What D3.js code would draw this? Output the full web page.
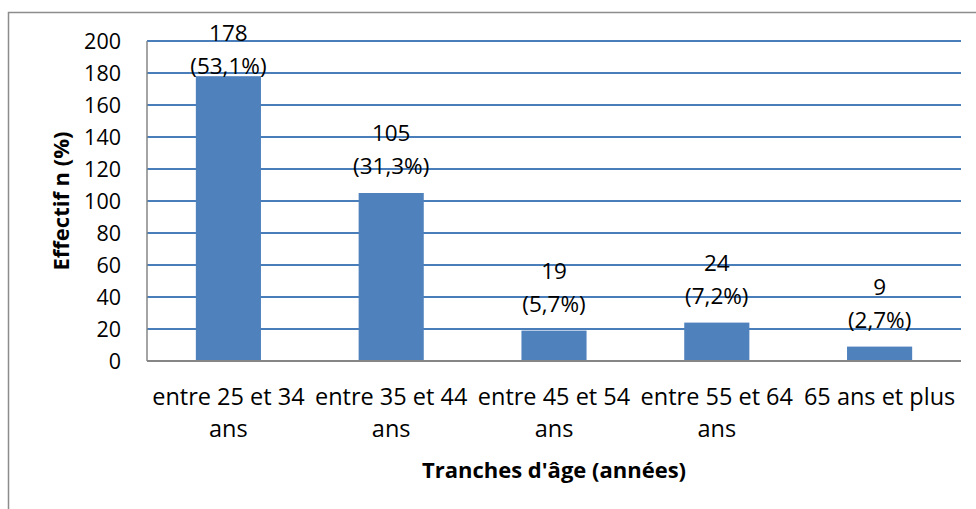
<!DOCTYPE html>
<html><head><meta charset="utf-8">
<script src="https://cdn.jsdelivr.net/npm/d3@7"></script>
<style>body{margin:0;background:#fff}svg{display:block}</style>
</head><body>
<svg id="c" width="976" height="509"></svg>
<script>
const categories = [["entre 25 et 34","ans"],["entre 35 et 44","ans"],["entre 45 et 54","ans"],["entre 55 et 64","ans"],["65 ans et plus"]];
const values = [178,105,19,24,9];
const percents = ["(53,1%)","(31,3%)","(5,7%)","(7,2%)","(2,7%)"];
const yTicks = [0,20,40,60,80,100,120,140,160,180,200];
const xTitle = "Tranches d'âge (années)";
const yTitle = "Effectif n (%)";

const svg = d3.select("#c");
const font = "'Open Sans', sans-serif";
const L=147, R=961, T=41, B=361;
const x = d3.scaleBand().domain(d3.range(values.length)).range([L,R]).paddingInner(0.6).paddingOuter(0.3);
const y = d3.scaleLinear().domain([0,200]).range([B,T]);

// outer border (only left/top visible)
svg.append("path").attr("d","M8.5,509 V12.5 H976").attr("fill","none").attr("stroke","#8c8c8c").attr("stroke-width",1.5);

// gridlines
svg.append("g").selectAll("line").data(yTicks.filter(d=>d>0)).join("line")
  .attr("x1",L).attr("x2",R).attr("y1",d=>y(d)).attr("y2",d=>y(d))
  .attr("stroke","#4a7ebb").attr("stroke-width",1.8);

// bars
svg.append("g").selectAll("rect").data(values).join("rect")
  .attr("x",(d,i)=>x(i)).attr("width",x.bandwidth())
  .attr("y",d=>y(d)).attr("height",d=>B-y(d)).attr("fill","#4f81bd");

// axes lines
svg.append("line").attr("x1",L).attr("x2",L).attr("y1",T).attr("y2",B).attr("stroke","#868686").attr("stroke-width",1.5);
svg.append("line").attr("x1",L).attr("x2",R).attr("y1",B).attr("y2",B).attr("stroke","#868686").attr("stroke-width",1.8);

// y ticks
const yAxis = d3.axisLeft(y).tickValues(yTicks).tickSize(0).tickPadding(26);
const ga = svg.append("g").attr("transform",`translate(${L},0)`).call(yAxis);
ga.select(".domain").remove();
ga.selectAll("text").attr("font-family",font).attr("font-size",21.5).attr("fill","#000").attr("dy","0.35em");

// data labels
const lab = svg.append("g").attr("font-family",font).attr("font-size",22.5).attr("text-anchor","middle").attr("fill","#000");
values.forEach((v,i)=>{
  const cx = x(i)+x.bandwidth()/2;
  const b2 = Math.max(y(v)-19, 74);
  lab.append("text").attr("x",cx).attr("y",b2-33).text(v);
  lab.append("text").attr("x",cx).attr("y",b2).text(percents[i]);
});

// x labels
const xl = svg.append("g").attr("font-family",font).attr("font-size",23.5).attr("text-anchor","middle").attr("fill","#000");
categories.forEach((lines,i)=>{
  const cx = x(i)+x.bandwidth()/2;
  lines.forEach((t,j)=>xl.append("text").attr("x",cx).attr("y",405+j*32).text(t));
});

// titles
svg.append("text").attr("x",(L+R)/2).attr("y",478).attr("text-anchor","middle")
  .attr("font-family",font).attr("font-size",22).attr("font-weight","bold").text(xTitle);
svg.append("text").attr("transform",`translate(69,${(T+B)/2}) rotate(-90)`).attr("text-anchor","middle")
  .attr("font-family",font).attr("font-size",22).attr("font-weight","bold").text(yTitle);
</script>
</body></html>
